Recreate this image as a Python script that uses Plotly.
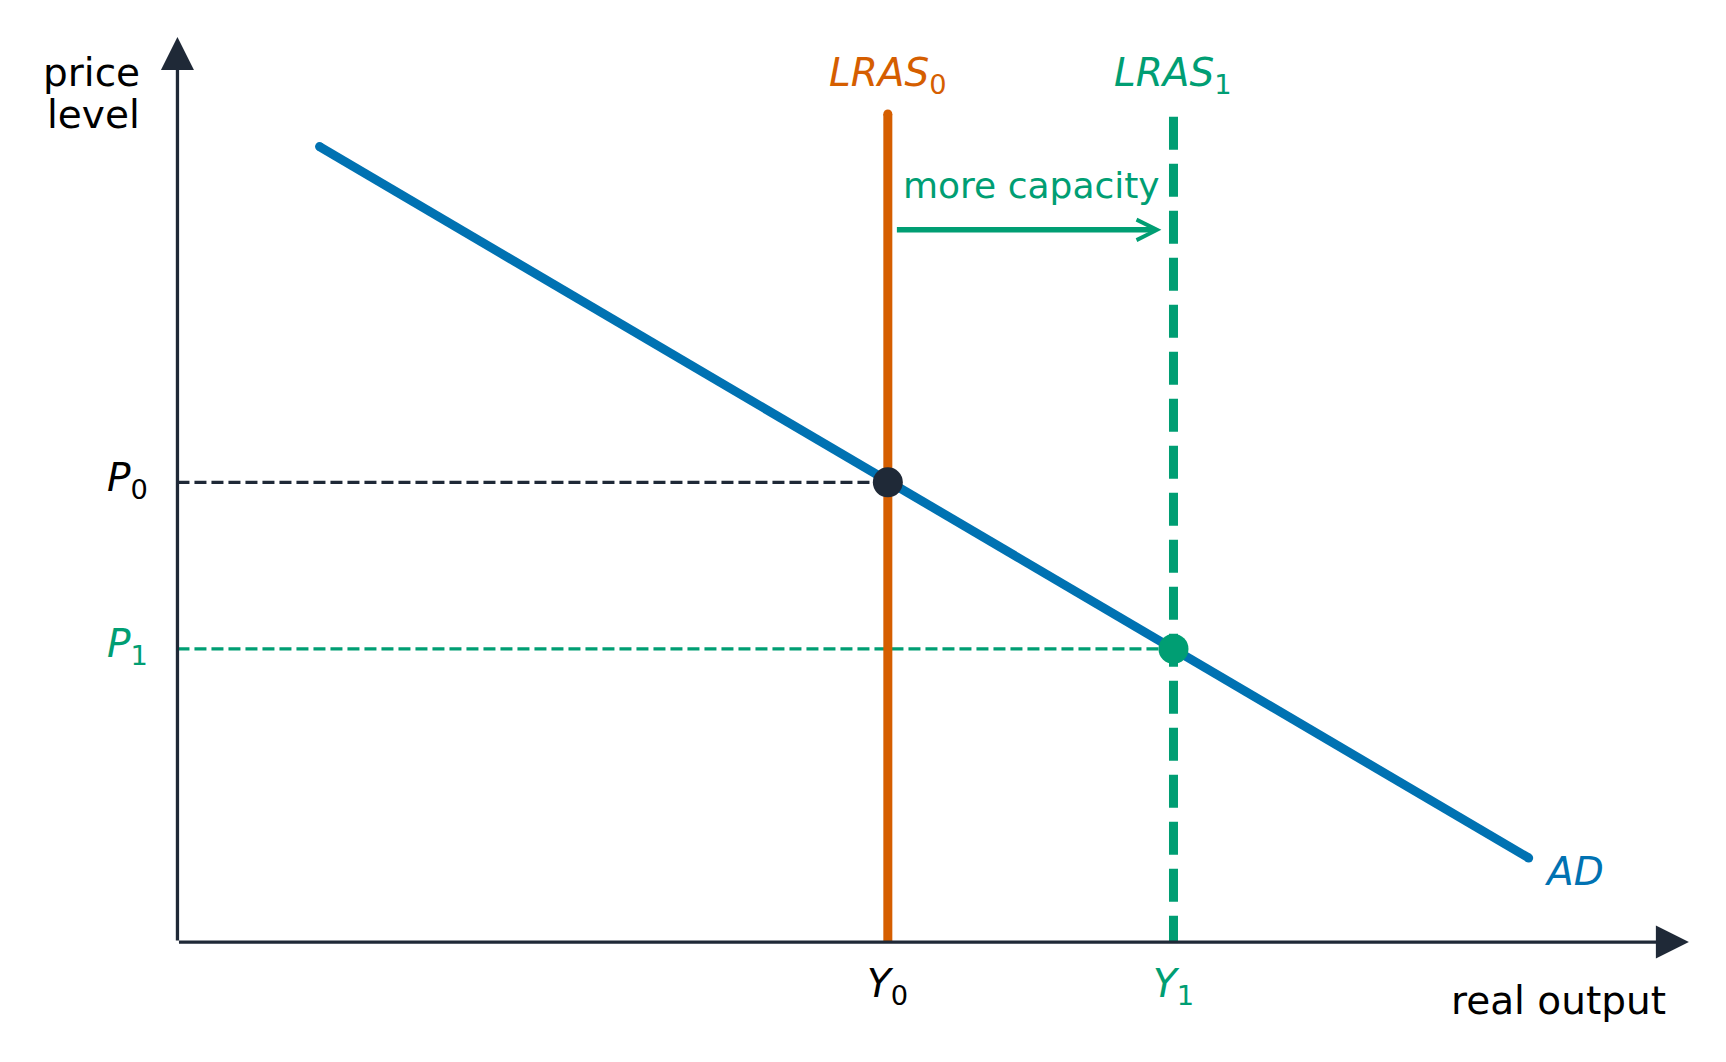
import plotly.graph_objects as go

# ---- data (abstract model units) ----
x_axis_max = 10.0
y_axis_max = 10.0
ad_x = [0.94, 8.94]
ad_y = [8.79, 0.93]
y_levels = [4.70, 6.59]        # Y0, Y1
p_levels = [5.08, 3.24]        # P0, P1
lras_top = [9.15, 9.12]        # top of LRAS0, LRAS1
shift_arrow_x = [4.75, 6.51]
shift_arrow_y = 7.87

lras_labels = ["<i>LRAS</i><sub>0</sub>", "<i>LRAS</i><sub>1</sub>"]
y_labels = ["<i>Y</i><sub>0</sub>", "<i>Y</i><sub>1</sub>"]
p_labels = ["<i>P</i><sub>0</sub>", "<i>P</i><sub>1</sub>"]

# ---- styles ----
BLUE = "#0072B2"
ORANGE = "#D55E00"
GREEN = "#009E73"
DARK = "#1f2937"
FONT = "DejaVu Sans"
FS = 39

fig = go.Figure()

# horizontal reference dashed lines
fig.add_trace(go.Scatter(x=[0, y_levels[0]], y=[p_levels[0], p_levels[0]], mode="lines",
                         line=dict(color=DARK, width=3.2, dash="12px,5px"), hoverinfo="skip"))
fig.add_trace(go.Scatter(x=[0, y_levels[1]], y=[p_levels[1], p_levels[1]], mode="lines",
                         line=dict(color=GREEN, width=3.2, dash="12px,5px"), hoverinfo="skip"))

# LRAS lines
fig.add_trace(go.Scatter(x=[y_levels[0], y_levels[0]], y=[0, lras_top[0]], mode="lines",
                         line=dict(color=ORANGE, width=9), hoverinfo="skip"))
fig.add_trace(go.Scatter(x=[y_levels[1], y_levels[1]], y=[lras_top[1], 0], mode="lines",
                         line=dict(color=GREEN, width=9, dash="33px,14px"), hoverinfo="skip"))

# AD curve
fig.add_trace(go.Scatter(x=ad_x, y=ad_y, mode="lines",
                         line=dict(color=BLUE, width=9), hoverinfo="skip"))
# round caps
fig.add_trace(go.Scatter(x=ad_x, y=ad_y, mode="markers",
                         marker=dict(color=BLUE, size=9), hoverinfo="skip"))
fig.add_trace(go.Scatter(x=[y_levels[0]], y=[lras_top[0]], mode="markers",
                         marker=dict(color=ORANGE, size=9), hoverinfo="skip"))

# equilibrium points
fig.add_trace(go.Scatter(x=[y_levels[0]], y=[p_levels[0]], mode="markers",
                         marker=dict(color=DARK, size=30), hoverinfo="skip"))
fig.add_trace(go.Scatter(x=[y_levels[1]], y=[p_levels[1]], mode="markers",
                         marker=dict(color=GREEN, size=30), hoverinfo="skip"))

ann = []
# axes with arrowheads
ann.append(dict(x=x_axis_max, y=0, ax=0, ay=0, xref="x", yref="y", axref="x", ayref="y",
                text="", showarrow=True, arrowhead=2, arrowsize=2, arrowwidth=3.3,
                arrowcolor=DARK, standoff=0))
ann.append(dict(x=0, y=y_axis_max, ax=0, ay=0, xref="x", yref="y", axref="x", ayref="y",
                text="", showarrow=True, arrowhead=2, arrowsize=2, arrowwidth=3.3,
                arrowcolor=DARK, standoff=0))
# shift arrow
ann.append(dict(x=shift_arrow_x[1], y=shift_arrow_y, ax=shift_arrow_x[0], ay=shift_arrow_y,
                xref="x", yref="y", axref="x", ayref="y", text="", showarrow=True,
                arrowhead=5, arrowsize=0.73, arrowwidth=5.5, arrowcolor=GREEN, standoff=0))
ann.append(dict(x=(shift_arrow_x[0] + shift_arrow_x[1]) / 2 + 0.02, y=8.36, xref="x", yref="y",
                text="more capacity", showarrow=False, font=dict(family=FONT, size=36, color=GREEN)))

# LRAS labels
for xv, lab, col in zip(y_levels, lras_labels, [ORANGE, GREEN]):
    ann.append(dict(x=xv, y=9.585, xref="x", yref="y", text=lab, showarrow=False,
                    font=dict(family=FONT, size=FS, color=col)))
# Y labels
for xv, lab, col in zip(y_levels, y_labels, ["black", GREEN]):
    ann.append(dict(x=xv, y=-0.48, xref="x", yref="y", text=lab, showarrow=False,
                    font=dict(family=FONT, size=FS, color=col)))
# P labels
for yv, lab, col in zip(p_levels, p_labels, ["black", GREEN]):
    ann.append(dict(x=-0.33, y=yv + 0.03, xref="x", yref="y", text=lab, showarrow=False,
                    font=dict(family=FONT, size=FS, color=col)))
# AD label
ann.append(dict(x=9.03, y=0.78, xref="x", yref="y", text="<i>AD</i>", showarrow=False,
                xanchor="left", font=dict(family=FONT, size=FS, color=BLUE)))
# axis titles
ann.append(dict(x=-0.237, y=9.61, xref="x", yref="y", text="price", showarrow=False,
                xanchor="right", font=dict(family=FONT, size=FS, color="black")))
ann.append(dict(x=-0.237, y=9.14, xref="x", yref="y", text="level", showarrow=False,
                xanchor="right", font=dict(family=FONT, size=FS, color="black")))
ann.append(dict(x=9.14, y=-0.64, xref="x", yref="y", text="real output", showarrow=False,
                font=dict(family=FONT, size=FS, color="black")))

fig.update_layout(
    width=1710, height=1046,
    margin=dict(l=108.5, r=13.9, t=10.9, b=44.1, pad=0),
    paper_bgcolor="white", plot_bgcolor="white",
    showlegend=False,
    xaxis=dict(range=[-0.4, 10.1], visible=False, fixedrange=True),
    yaxis=dict(range=[-0.75, 10.2], visible=False, fixedrange=True),
    annotations=ann,
)

fig.write_html("out.html")
